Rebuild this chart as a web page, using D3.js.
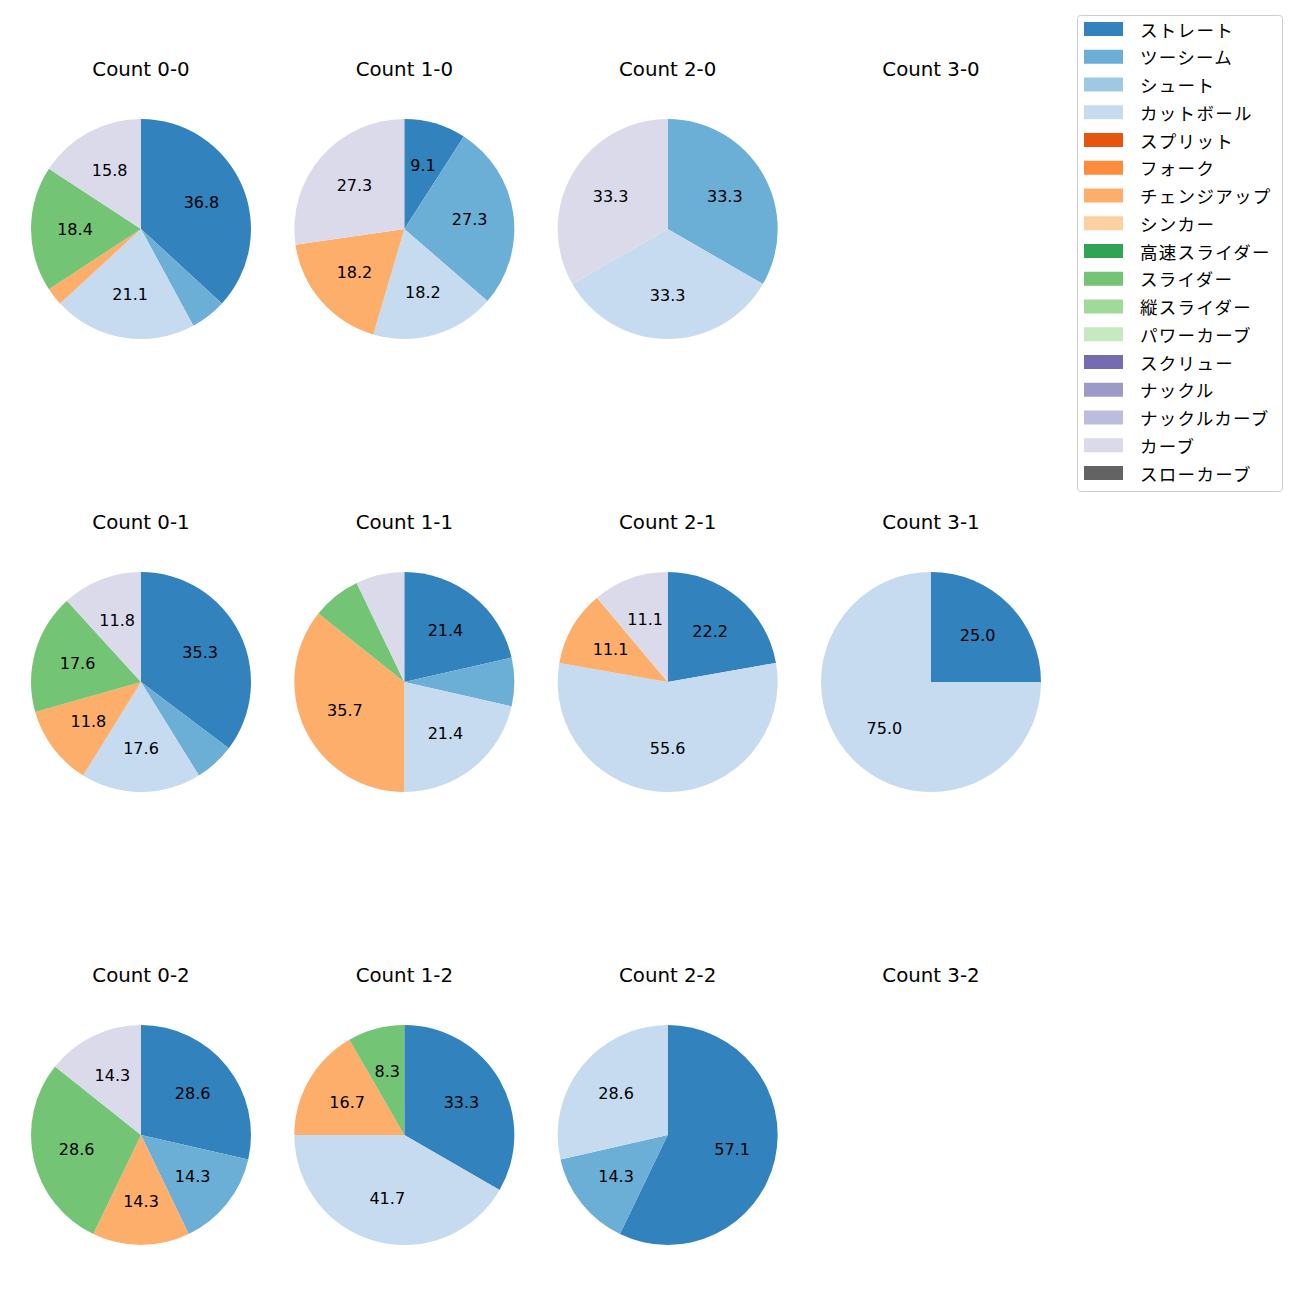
<!DOCTYPE html>
<html><head><meta charset="utf-8">
<script src="https://cdn.jsdelivr.net/npm/d3@7"></script>
<style>body{margin:0;background:#fff}svg{font-family:"DejaVu Sans","Noto Sans CJK JP",sans-serif}</style>
</head><body><svg id="c" width="1300" height="1300"></svg>
<script>
const pitchTypes = ["ストレート","ツーシーム","シュート","カットボール","スプリット","フォーク","チェンジアップ","シンカー","高速スライダー","スライダー","縦スライダー","パワーカーブ","スクリュー","ナックル","ナックルカーブ","カーブ","スローカーブ"];
const pitchColors = ["#3182bd","#6baed6","#9ecae1","#c6dbef","#e6550d","#fd8d3c","#fdae6b","#fdd0a2","#31a354","#74c476","#a1d99b","#c7e9c0","#756bb1","#9e9ac8","#bcbddc","#dadaeb","#636363"];
const counts = ["Count 0-0","Count 1-0","Count 2-0","Count 3-0","Count 0-1","Count 1-1","Count 2-1","Count 3-1","Count 0-2","Count 1-2","Count 2-2","Count 3-2"];
// pitch counts per type (order = pitchTypes)
const c00 = [14,2,0,8,0,0,1,0,0,7,0,0,0,0,0,6,0];
const c10 = [1,3,0,2,0,0,2,0,0,0,0,0,0,0,0,3,0];
const c20 = [0,1,0,1,0,0,0,0,0,0,0,0,0,0,0,1,0];
const c30 = [0,0,0,0,0,0,0,0,0,0,0,0,0,0,0,0,0];
const c01 = [6,1,0,3,0,0,2,0,0,3,0,0,0,0,0,2,0];
const c11 = [3,1,0,3,0,0,5,0,0,1,0,0,0,0,0,1,0];
const c21 = [2,0,0,5,0,0,1,0,0,0,0,0,0,0,0,1,0];
const c31 = [1,0,0,3,0,0,0,0,0,0,0,0,0,0,0,0,0];
const c02 = [2,1,0,0,0,0,1,0,0,2,0,0,0,0,0,1,0];
const c12 = [4,0,0,5,0,0,2,0,0,1,0,0,0,0,0,0,0];
const c22 = [4,1,0,2,0,0,0,0,0,0,0,0,0,0,0,0,0];
const c32 = [0,0,0,0,0,0,0,0,0,0,0,0,0,0,0,0,0];
const countValues = [c00,c10,c20,c30,c01,c11,c21,c31,c02,c12,c22,c32];

const svg = d3.select("#c");
const color = d3.scaleOrdinal().domain(pitchTypes).range(pitchColors);
const colX = d3.scalePoint().domain([0,1,2,3]).range([141,931]);
const rowY = d3.scalePoint().domain([0,1,2]).range([229,1135]);
const R = 110;
const pie = d3.pie().sort(null).value(d=>d.v).startAngle(0).endAngle(2*Math.PI);
const arc = d3.arc().innerRadius(0).outerRadius(R);
const labelArc = d3.arc().innerRadius(R*0.6).outerRadius(R*0.6);

counts.forEach((name,i)=>{
  const col=i%4,row=Math.floor(i/4);
  const g = svg.append("g").attr("transform",`translate(${colX(col)},${rowY(row)})`);
  g.append("text").attr("x",0).attr("y",-160).attr("text-anchor","middle").attr("dominant-baseline","central")
    .attr("font-size",19.8).attr("fill","#000").text(name);
  const vals = countValues[i];
  const total = d3.sum(vals);
  if(total===0) return;
  const data = pitchTypes.map((p,k)=>({p,v:vals[k]})).filter(d=>d.v>0);
  const arcs = pie(data);
  g.selectAll("path").data(arcs).join("path").attr("d",arc).attr("fill",d=>color(d.data.p));
  g.selectAll("text.lbl").data(arcs.filter(d=>d.data.v/total*100>=8)).join("text").attr("class","lbl")
    .attr("transform",d=>`translate(${labelArc.centroid(d)})`)
    .attr("text-anchor","middle").attr("dominant-baseline","central").attr("font-size",16).attr("fill","#000")
    .text(d=>(d.data.v/total*100).toFixed(1));
});

// legend
const lg = svg.append("g");
lg.append("rect").attr("x",1077.5).attr("y",15.5).attr("width",205).attr("height",476).attr("rx",3)
  .attr("fill","#fff").attr("stroke","#cccccc").attr("stroke-width",1);
const ly = d3.scaleLinear().domain([0,pitchTypes.length-1]).range([29,473]);
pitchTypes.forEach((p,k)=>{
  lg.append("rect").attr("x",1084).attr("y",ly(k)-7).attr("width",39).attr("height",14).attr("fill",color(p));
  lg.append("text").attr("x",1140).attr("y",ly(k)).attr("dominant-baseline","central")
    .attr("font-family","Noto Sans CJK JP").attr("font-size",17.5).attr("letter-spacing",1.3).attr("fill","#000").text(p);
});
</script></body></html>
